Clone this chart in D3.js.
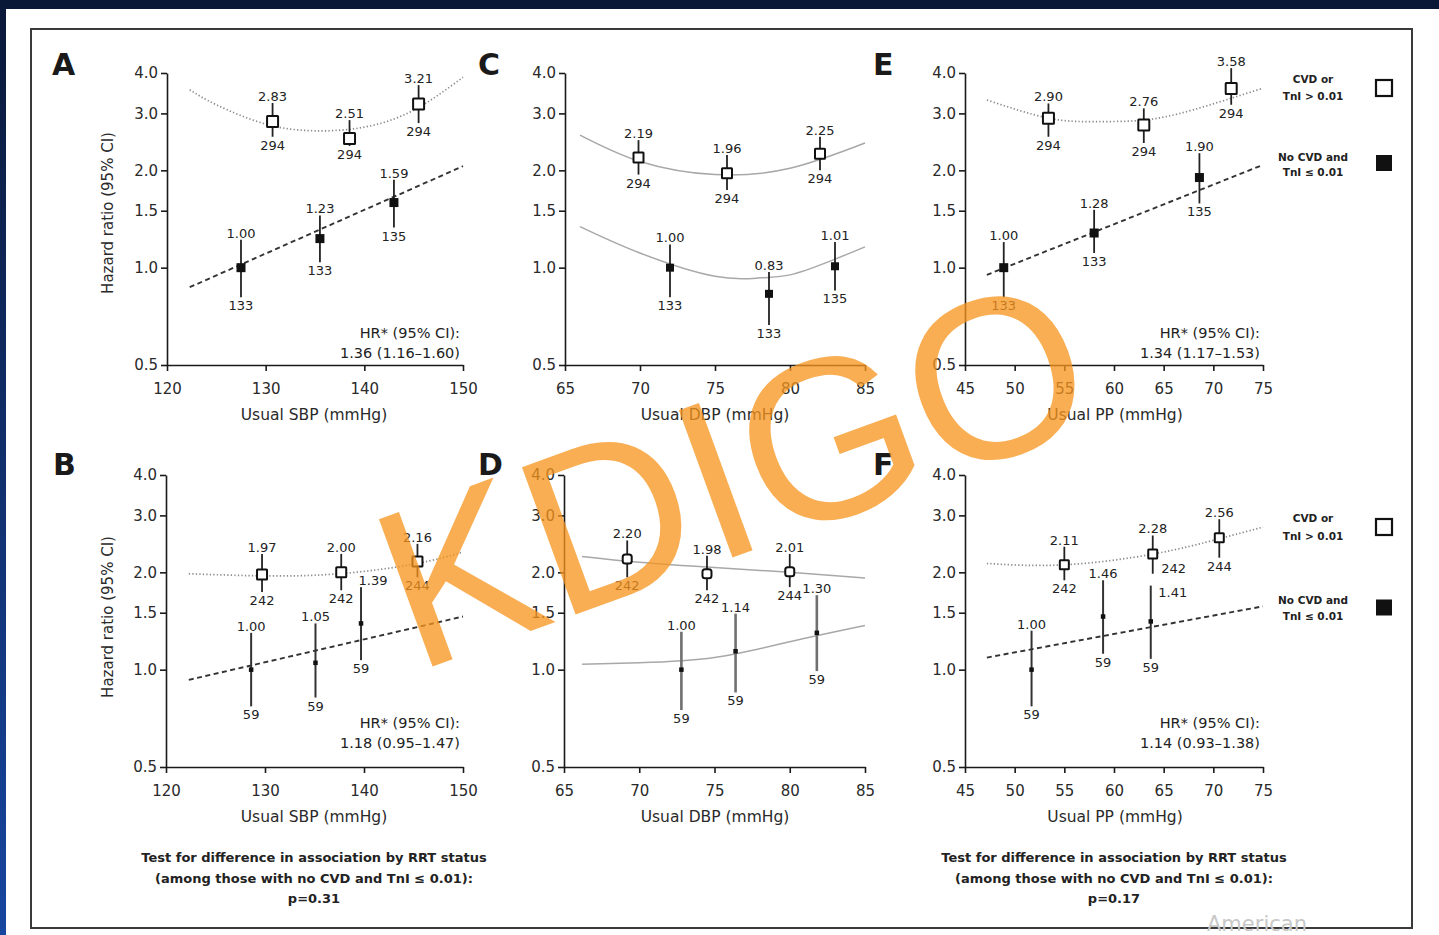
<!DOCTYPE html>
<html><head><meta charset="utf-8">
<script src="https://cdn.jsdelivr.net/npm/d3@7"></script>
<style>html,body{margin:0;padding:0;background:#fff;overflow:hidden}svg{display:block}text{font-family:"DejaVu Sans",sans-serif}</style>
</head><body><svg id="c" width="1439" height="935"></svg>
<script>
// ---------------- DATA ----------------
const yTickValues = [0.5, 1.0, 1.5, 2.0, 3.0, 4.0];
const sbpTicks = [120, 130, 140, 150];
const dbpTicks = [65, 70, 75, 80, 85];
const ppTicks = [45, 50, 55, 60, 65, 70, 75];

// Panel A: usual SBP
const panelA_open = [
  {x:130.7, hr:2.83, lo:2.54, hi:3.23, n:294},
  {x:138.5, hr:2.51, lo:2.38, hi:2.86, n:294},
  {x:145.5, hr:3.21, lo:2.80, hi:3.67, n:294}];
const panelA_filled = [
  {x:127.5, hr:1.00, lo:0.81, hi:1.22, n:133},
  {x:135.5, hr:1.23, lo:1.04, hi:1.45, n:133},
  {x:143.0, hr:1.59, lo:1.33, hi:1.87, n:135}];
const panelA_openFit = [[122.3,3.55],[125,3.19],[130,2.78],[135,2.65],[140,2.72],[145,3.07],[150,3.88]];
const panelA_filledFit = [[122.3,0.87],[150,2.06]];

// Panel B: usual SBP
const panelB_open = [
  {x:129.7, hr:1.97, lo:1.74, hi:2.28, n:242},
  {x:137.7, hr:2.00, lo:1.76, hi:2.28, n:242},
  {x:145.4, hr:2.16, lo:1.93, hi:2.45, n:244}];
const panelB_filled = [
  {x:128.6, hr:1.00, lo:0.77, hi:1.30, n:59},
  {x:135.1, hr:1.05, lo:0.82, hi:1.39, n:59},
  {x:139.7, hr:1.39, lo:1.07, hi:1.80, n:59}];
const panelB_openFit = [[122.3,1.98],[130,1.95],[137.5,1.98],[145,2.12],[150,2.31]];
const panelB_filledFit = [[122.3,0.93],[150,1.46]];

// Panel C: usual DBP
const panelC_open = [
  {x:69.9, hr:2.19, lo:1.94, hi:2.48, n:294},
  {x:75.8, hr:1.96, lo:1.74, hi:2.23, n:294},
  {x:82.0, hr:2.25, lo:2.00, hi:2.54, n:294}];
const panelC_filled = [
  {x:72.0, hr:1.00, lo:0.81, hi:1.18, n:133},
  {x:78.6, hr:0.83, lo:0.665, hi:0.97, n:133},
  {x:83.0, hr:1.01, lo:0.85, hi:1.20, n:135}];
const panelC_openFit = [[66,2.57],[70,2.13],[75,1.94],[80,2.03],[85,2.43]];
const panelC_filledFit = [[66,1.34],[70,1.11],[75,0.94],[78,0.93],[80,0.95],[82.5,1.04],[85,1.16]];

// Panel D: usual DBP
const panelD_open = [
  {x:69.2, hr:2.20, lo:1.93, hi:2.51, n:242},
  {x:74.5, hr:1.98, lo:1.76, hi:2.25, n:242},
  {x:80.0, hr:2.01, lo:1.80, hi:2.28, n:244}];
const panelD_filled = [
  {x:72.8, hr:1.00, lo:0.75, hi:1.31, n:59},
  {x:76.4, hr:1.14, lo:0.85, hi:1.49, n:59},
  {x:81.8, hr:1.30, lo:0.99, hi:1.70, n:59}];
const panelD_openFit = [[66.2,2.24],[70,2.15],[75,2.07],[80,2.00],[85,1.92]];
const panelD_filledFit = [[66.2,1.04],[70,1.05],[75,1.09],[80,1.22],[85,1.37]];

// Panel E: usual PP
const panelE_open = [
  {x:53.4, hr:2.90, lo:2.54, hi:3.22, n:294},
  {x:63.0, hr:2.76, lo:2.43, hi:3.11, n:294},
  {x:71.8, hr:3.58, lo:3.19, hi:4.14, n:294}];
const panelE_filled = [
  {x:48.9, hr:1.00, lo:0.81, hi:1.20, n:133},
  {x:58.0, hr:1.28, lo:1.11, hi:1.51, n:133},
  {x:68.6, hr:1.90, lo:1.58, hi:2.26, n:135}];
const panelE_openFit = [[47.2,3.30],[53.4,2.90],[58,2.83],[63,2.86],[68,3.08],[75,3.59]];
const panelE_filledFit = [[47.2,0.95],[75,2.08]];

// Panel F: usual PP
const panelF_open = [
  {x:55.0, hr:2.11, lo:1.89, hi:2.40, n:242},
  {x:63.9, hr:2.28, lo:1.98, hi:2.60, n:242},
  {x:70.6, hr:2.56, lo:2.22, hi:2.92, n:244}];
const panelF_filled = [
  {x:51.7, hr:1.00, lo:0.77, hi:1.32, n:59},
  {x:58.9, hr:1.46, lo:1.12, hi:1.89, n:59},
  {x:63.7, hr:1.41, lo:1.08, hi:1.82, n:59}];
const panelF_openFit = [[47.2,2.13],[55,2.11],[64,2.28],[70.6,2.54],[75,2.76]];
const panelF_filledFit = [[47.2,1.09],[75,1.57]];

const hrLines = {
  A:["HR* (95% CI):","1.36 (1.16\u20131.60)"],
  B:["HR* (95% CI):","1.18 (0.95\u20131.47)"],
  E:["HR* (95% CI):","1.34 (1.17\u20131.53)"],
  F:["HR* (95% CI):","1.14 (0.93\u20131.38)"]};
const xTitles = {sbp:"Usual SBP (mmHg)", dbp:"Usual DBP (mmHg)", pp:"Usual PP (mmHg)"};
const yTitle = "Hazard ratio (95% CI)";
const legendOpen = ["CVD or","TnI > 0.01"];
const legendFilled = ["No CVD and","TnI \u2264 0.01"];
const testLines = ["Test for difference in association by RRT status","(among those with no CVD and TnI \u2264 0.01):"];
const pValues = ["p=0.31","p=0.17"];
const watermark = "KDIGO";

// ---------------- LAYOUT / STYLE ----------------
const svg = d3.select("#c");
const W = 1439, H = 935;

svg.append("rect").attr("width",W).attr("height",H).attr("fill","#fff");
const grad = svg.append("defs").append("linearGradient").attr("id","lg").attr("x1",0).attr("y1",0).attr("x2",0).attr("y2",1);
grad.append("stop").attr("offset","0%").attr("stop-color","#0a1838");
grad.append("stop").attr("offset","100%").attr("stop-color","#1746a0");
svg.append("rect").attr("x",0).attr("y",0).attr("width",W).attr("height",9).attr("fill","#0a1838");
svg.append("rect").attr("x",0).attr("y",0).attr("width",6).attr("height",H).attr("fill","url(#lg)");
svg.append("rect").attr("x",31).attr("y",29).attr("width",1381).attr("height",899)
  .attr("fill","none").attr("stroke","#3a3a3a").attr("stroke-width",2);

const fitStyles = {
  dotted:{stroke:"#8a8a8a", w:1.7, dash:"1.3,2.2"},
  dashed:{stroke:"#333", w:1.9, dash:"5,3.5"},
  solid:{stroke:"#a8a8a8", w:1.5, dash:null}
};

const panels = [
  {id:"A", L:167, R:463, B:365, T:73, dom:[120,150], ticks:sbpTicks, xt:"sbp", letter:[52,75], ytitle:[113,213],
   open:panelA_open, filled:panelA_filled, oFit:panelA_openFit, fFit:panelA_filledFit, oStyle:"dotted", fStyle:"dashed",
   oSize:11, fSize:9, hr:[460,338], fBar:{c:"#222",w:1.8}, xtPos:[314,420]},
  {id:"C", L:565, R:865, B:365, T:73, dom:[65,85], ticks:dbpTicks, xt:"dbp", letter:[478,75], ytitle:null,
   open:panelC_open, filled:panelC_filled, oFit:panelC_openFit, fFit:panelC_filledFit, oStyle:"solid", fStyle:"solid",
   oSize:10, fSize:8, hr:null, fBar:{c:"#222",w:1.8}, xtPos:[715,420]},
  {id:"E", L:965, R:1263, B:365, T:73, dom:[45,75], ticks:ppTicks, xt:"pp", letter:[873,75], ytitle:null,
   open:panelE_open, filled:panelE_filled, oFit:panelE_openFit, fFit:panelE_filledFit, oStyle:"dotted", fStyle:"dashed",
   oSize:11, fSize:9, hr:[1260,338], fBar:{c:"#222",w:1.8}, xtPos:[1115,420], legend:[83,100,88,161,176,163]},
  {id:"B", L:166, R:463, B:767, T:475, dom:[120,150], ticks:sbpTicks, xt:"sbp", letter:[53,475], ytitle:[113,617],
   open:panelB_open, filled:panelB_filled, oFit:panelB_openFit, fFit:panelB_filledFit, oStyle:"dotted", fStyle:"dashed",
   oSize:10, fSize:4.5, hr:[460,728], fBar:{c:"#333",w:2}, xtPos:[314,822]},
  {id:"D", L:564, R:865, B:767, T:475, dom:[65,85], ticks:dbpTicks, xt:"dbp", letter:[478,475], ytitle:null,
   open:panelD_open, filled:panelD_filled, oFit:panelD_openFit, fFit:panelD_filledFit, oStyle:"solid", fStyle:"solid",
   oSize:9, fSize:4.5, hr:null, fBar:{c:"#707070",w:2.6}, xtPos:[715,822]},
  {id:"F", L:965, R:1263, B:767, T:475, dom:[45,75], ticks:ppTicks, xt:"pp", letter:[873,475], ytitle:null,
   open:panelF_open, filled:panelF_filled, oFit:panelF_openFit, fFit:panelF_filledFit, oStyle:"dotted", fStyle:"dashed",
   oSize:9, fSize:4.5, hr:[1260,728], fBar:{c:"#333",w:2}, xtPos:[1115,822], legend:[522,540,527,604,620,607.5]}
];

const labelTweaks = {
  "B-filled-2-top": {dx:12},
  "F-open-1-bottom": {dx:21, side:true},
  "F-filled-2-top": {dx:22, side:true}
};

const TXT = "#222";

panels.forEach(p => {
  const g = svg.append("g");
  const x = d3.scaleLinear().domain(p.dom).range([p.L, p.R]);
  const y = d3.scaleLog().domain([0.5, 4]).range([p.B, p.T]);

  const ya = g.append("g").attr("transform",`translate(${p.L},0)`)
    .call(d3.axisLeft(y).tickValues(yTickValues).tickFormat(d3.format(".1f")).tickSize(6).tickSizeOuter(0).tickPadding(3));
  const xa = g.append("g").attr("transform",`translate(0,${p.B})`)
    .call(d3.axisBottom(x).tickValues(p.ticks).tickFormat(d3.format("d")).tickSize(6).tickSizeOuter(0).tickPadding(12));
  [ya, xa].forEach(a => {
    a.selectAll("path, line").attr("stroke","#1a1a1a").attr("stroke-width",1.6);
    a.selectAll("text").attr("font-size",15).attr("fill","#2a2a2a");
  });

  const line = d3.line().x(d => x(d[0])).y(d => y(d[1])).curve(d3.curveNatural);
  [[p.oFit, p.oStyle],[p.fFit, p.fStyle]].forEach(([pts, st]) => {
    const s = fitStyles[st];
    g.append("path").attr("d", line(pts)).attr("fill","none")
      .attr("stroke", s.stroke).attr("stroke-width", s.w)
      .attr("stroke-dasharray", s.dash);
  });

  const series = [
    {name:"open", data:p.open, size:p.oSize, bar:{c:"#222",w:1.8}},
    {name:"filled", data:p.filled, size:p.fSize, bar:p.fBar}
  ];
  series.forEach(sr => {
    sr.data.forEach((d, i) => {
      const cx = x(d.x);
      g.append("line").attr("x1",cx).attr("x2",cx).attr("y1",y(d.lo)).attr("y2",y(d.hi))
        .attr("stroke", sr.bar.c).attr("stroke-width", sr.bar.w);
      const s = sr.size;
      if (sr.name === "open") {
        g.append("rect").attr("x",cx-s/2).attr("y",y(d.hr)-s/2).attr("width",s).attr("height",s)
          .attr("fill","#fff").attr("stroke","#111").attr("stroke-width",2).attr("rx", p.id==="D"?2.5:0.5);
      } else {
        g.append("rect").attr("x",cx-s/2).attr("y",y(d.hr)-s/2).attr("width",s).attr("height",s)
          .attr("fill","#111");
      }
      const tTop = labelTweaks[`${p.id}-${sr.name}-${i}-top`] || {};
      const tBot = labelTweaks[`${p.id}-${sr.name}-${i}-bottom`] || {};
      g.append("text").attr("x", cx + (tTop.dx||0))
        .attr("y", tTop.side ? y(d.hi) + 11 : y(d.hi) - 2)
        .attr("text-anchor","middle").attr("font-size",13).attr("fill",TXT)
        .text(d3.format(".2f")(d.hr));
      g.append("text").attr("x", cx + (tBot.dx||0))
        .attr("y", tBot.side ? y(d.lo) - 1 : y(d.lo) + 13)
        .attr("text-anchor","middle").attr("font-size",13).attr("fill",TXT)
        .text(d.n);
    });
  });

  if (p.hr) {
    hrLines[p.id].forEach((t, k) => {
      g.append("text").attr("x", p.hr[0]).attr("y", p.hr[1] + k*19.5)
        .attr("text-anchor","end").attr("font-size",14.5).attr("fill",TXT).text(t);
    });
  }

  g.append("text").attr("x", p.xtPos[0]).attr("y", p.xtPos[1]).attr("text-anchor","middle")
    .attr("font-size",15.5).attr("fill","#2a2a2a").text(xTitles[p.xt]);
  if (p.ytitle) {
    g.append("text").attr("transform",`translate(${p.ytitle[0]},${p.ytitle[1]}) rotate(-90)`)
      .attr("text-anchor","middle").attr("font-size",15).attr("fill","#2a2a2a").text(yTitle);
  }
  g.append("text").attr("x", p.letter[0]).attr("y", p.letter[1])
    .attr("font-size",30).attr("font-weight","bold").attr("fill","#1a1a1a").text(p.id);

  if (p.legend) {
    const lx = 1313, sx = 1384, sz = 16;
    const L = p.legend;
    legendOpen.forEach((t,k) => g.append("text").attr("x",lx).attr("y",L[k]).attr("text-anchor","middle")
      .attr("font-size",10.5).attr("font-weight","bold").attr("fill","#222").text(t));
    g.append("rect").attr("x",sx-sz/2).attr("y",L[2]-sz/2).attr("width",sz).attr("height",sz)
      .attr("fill","#fff").attr("stroke","#111").attr("stroke-width",2.2);
    legendFilled.forEach((t,k) => g.append("text").attr("x",lx).attr("y",L[3+k]).attr("text-anchor","middle")
      .attr("font-size",10.5).attr("font-weight","bold").attr("fill","#222").text(t));
    g.append("rect").attr("x",sx-sz/2).attr("y",L[5]-sz/2).attr("width",sz).attr("height",sz)
      .attr("fill","#111");
  }
});

[[314, pValues[0]],[1114, pValues[1]]].forEach(([cx, pv]) => {
  [testLines[0], testLines[1], pv].forEach((t,k) => {
    svg.append("text").attr("x",cx).attr("y",862 + k*20.5).attr("text-anchor","middle")
      .attr("font-size",13).attr("font-weight","bold").attr("fill","#222").text(t);
  });
});

svg.append("text").attr("x",1207).attr("y",931).attr("font-size",21).attr("fill","#c8c8c8").text("American");

// watermark
svg.append("text").attr("transform","translate(415,673) rotate(-20)")
  .style("font-family","'Liberation Sans', Arial, sans-serif").style("font-weight","normal")
  .attr("font-size",228).attr("fill","#f7941d").attr("fill-opacity",0.76).text(watermark);
</script>
</body></html>
